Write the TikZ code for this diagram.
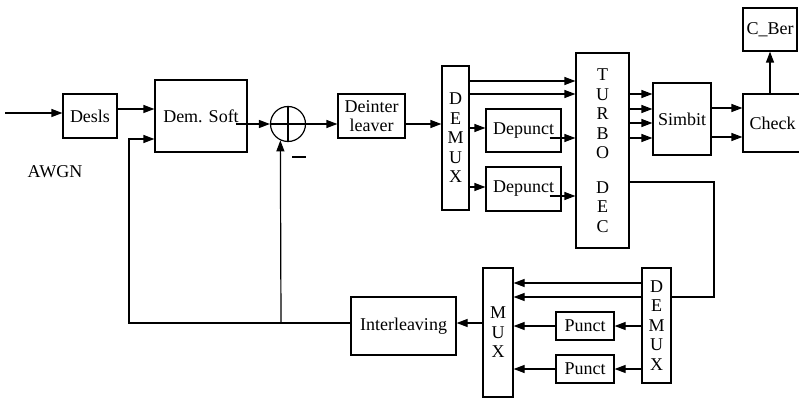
\documentclass[tikz,border=0pt]{standalone}
\usepackage{fontspec}
\setmainfont{Liberation Serif}
\usetikzlibrary{arrows.meta}
\begin{document}
\begin{tikzpicture}[x=1pt,y=-1pt,
  box/.style={draw,line width=1.2pt,inner sep=0pt,font=\fontsize{18}{19.5}\selectfont,align=center},
  lbl/.style={inner sep=0pt,font=\fontsize{18}{19.5}\selectfont},
  conn/.style={line width=1.2pt},
  arr/.style={conn,-{Triangle[length=11pt,width=8pt]}}]
\path[use as bounding box] (0,0) rectangle (799,398);
\clip (0,0) rectangle (799,398);
% boxes
\node[box,minimum width=54pt,minimum height=44pt] (desls) at (90,116) {Desls};
\node[box,minimum width=92pt,minimum height=72pt] (dem) at (201,116) {Dem. Soft};
\node[draw,circle,line width=1.2pt,minimum size=35pt,inner sep=0pt] (plus) at (288,124) {};
\node[box,minimum width=67pt,minimum height=44pt] (deint) at (371.5,116) {Deinter\\leaver};
\node[box,minimum width=27pt,minimum height=144pt] (demux) at (455.5,138) {D\\E\\M\\U\\X};
\node[box,minimum width=75pt,minimum height=43pt] (dp1) at (523.5,130.5) {Depunct};
\node[box,minimum width=75pt,minimum height=44pt] (dp2) at (523.5,189) {Depunct};
\node[box,minimum width=53pt,minimum height=195pt] (turbo) at (602.5,150.5) {T\\U\\R\\B\\O\\[15pt]D\\E\\C};
\node[box,minimum width=58pt,minimum height=72pt] (simbit) at (682,119) {Simbit};
\node[box,minimum width=62pt,minimum height=58pt,text width=62pt] (check) at (774,123) {\hspace*{-3pt}Check};
\node[box,minimum width=54pt,minimum height=43pt] (cber) at (770,29.5) {C\_Ber};
\node[box,minimum width=29pt,minimum height=115pt] (demux2) at (656.5,325.5) {D\\E\\M\\U\\X};
\node[box,minimum width=58pt,minimum height=28pt] (pu1) at (585,326) {Punct};
\node[box,minimum width=58pt,minimum height=28pt] (pu2) at (585,369) {Punct};
\node[box,minimum width=30pt,minimum height=129pt] (mux) at (498,332.5) {M\\U\\X};
\node[box,minimum width=105pt,minimum height=58pt] (inter) at (403.5,326) {Interleaving};
\node[lbl] (awgn) at (55,172) {AWGN};
% plus sign inside adder
\draw[conn] (plus.north) -- (plus.south);
\draw[conn] (plus.west) -- (plus.east);
\draw[conn] (292,157) -- (306,157);
% input
\coordinate (in) at (5,113);
\draw[arr] (in) -- (desls.west |- in);
\draw[arr] (desls.east |- 0,109) -- (dem.west |- 0,109);
% dem -> adder -> deinterleaver -> demux
\draw[arr] ([xshift=-12pt]dem.east |- plus) -- (plus.west);
\draw[arr] (plus.east) -- (deint.west |- plus);
\draw[arr] (deint.east |- plus) -- (demux.west |- plus);
% demux -> turbo / depunct
\draw[arr] (demux.east |- 0,81) -- (turbo.west |- 0,81);
\draw[arr] (demux.east |- 0,94) -- (turbo.west |- 0,94);
\draw[arr] (demux.east |- 0,128) -- (dp1.west |- 0,128);
\draw[arr] (demux.east |- 0,187) -- (dp2.west |- 0,187);
\draw[arr] ([xshift=-12pt]dp1.east |- 0,138) -- (turbo.west |- 0,138);
\draw[arr] ([xshift=-12pt]dp2.east |- 0,196) -- (turbo.west |- 0,196);
% turbo -> simbit -> check -> cber
\foreach \yy in {94,109,123,138}
  \draw[arr] (turbo.east |- 0,\yy) -- (simbit.west |- 0,\yy);
\draw[arr] (simbit.east |- 0,108) -- (check.west |- 0,108);
\draw[arr] (simbit.east |- 0,137) -- (check.west |- 0,137);
\draw[arr] (cber.south |- check.north) -- (cber.south);
% turbo feedback -> demux2
\coordinate (fr) at (714,182);
\draw[conn] (turbo.east |- fr) -- (fr) |- (demux2.east |- 0,297);
% demux2 -> mux / punct
\draw[arr] (demux2.west |- 0,283) -- (mux.east |- 0,283);
\draw[arr] (demux2.west |- 0,297) -- (mux.east |- 0,297);
\draw[arr] (demux2.west |- pu1) -- (pu1.east);
\draw[arr] (demux2.west |- pu2) -- (pu2.east);
\draw[arr] (pu1.west) -- (mux.east |- pu1);
\draw[arr] (pu2.west) -- (mux.east |- pu2);
% mux -> interleaving -> feedback
\draw[arr] (mux.west |- 0,323) -- (inter.east |- 0,323);
\coordinate (fbl) at (129,323);
\coordinate (fbt) at (129,139);
\coordinate (j) at (281,323);
\draw[arr] (inter.west |- fbl) -- (fbl) -- (fbt) -- (dem.west |- fbt);
\draw[arr] (j) -- (plus.245);
\end{tikzpicture}
\end{document}
